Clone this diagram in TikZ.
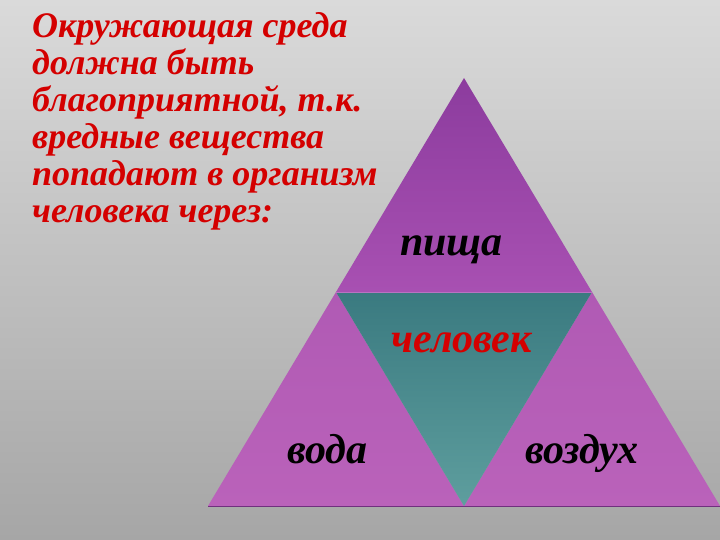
\documentclass[tikz,border=0pt]{standalone}
\usepackage{fontspec}
\setmainfont{Liberation Serif}
\begin{document}
\begin{tikzpicture}[x=1pt,y=-1pt,
  lbl/.style={font=\fontsize{42}{46}\selectfont\bfseries\itshape, inner sep=0pt, anchor=base},
  intro/.style={font=\fontsize{36}{37}\selectfont\bfseries\itshape, text=introred, align=left, anchor=north west, inner sep=0pt}]
\definecolor{introred}{HTML}{D40000}
\definecolor{bgtop}{HTML}{DADADA}
\definecolor{bgbot}{HTML}{A6A6A6}
\definecolor{ptop}{HTML}{8C3C9E}
\definecolor{pbot}{HTML}{A850B2}
\definecolor{lbot}{HTML}{BA62BA}
\definecolor{ltop}{HTML}{B05AB4}
\definecolor{ttop}{HTML}{3A7A80}
\definecolor{tbot}{HTML}{5E9E9E}
\useasboundingbox (0,0) rectangle (720,540);
\shade[top color=bgtop, bottom color=bgbot] (0,0) rectangle (720,540);
% vertices
\coordinate (A) at (464,78);
\coordinate (L) at (336,292);
\coordinate (R) at (592,292);
\coordinate (BL) at (208,506);
\coordinate (BM) at (464,506);
\coordinate (BR) at (720,506);
\shade[top color=ptop, bottom color=pbot] (A) -- (L) -- (R) -- cycle;
\shade[top color=ltop, bottom color=lbot] (L) -- (BL) -- (BM) -- cycle;
\shade[top color=ltop, bottom color=lbot] (R) -- (BM) -- (BR) -- cycle;
\shade[top color=ttop, bottom color=tbot] (L) -- (R) -- (BM) -- cycle;
\draw[draw=pbot!80!white, line width=0.8pt] (L) -- (R);
\draw[draw=ptop!80!black, line width=0.8pt] (BL) -- (BR);
% texts
\node[intro] (t) at (32,12) {Окружающая среда\\должна быть\\благоприятной, т.к.\\вредные вещества\\попадают в организм\\человека через:};
\node[lbl] (p) at (451.5,255) {пища};
\node[lbl, text=introred] (c) at (461.5,352) {человек};
\node[lbl] (v) at (327.5,463) {вода};
\node[lbl] (a) at (582,463) {воздух};
\end{tikzpicture}
\end{document}
